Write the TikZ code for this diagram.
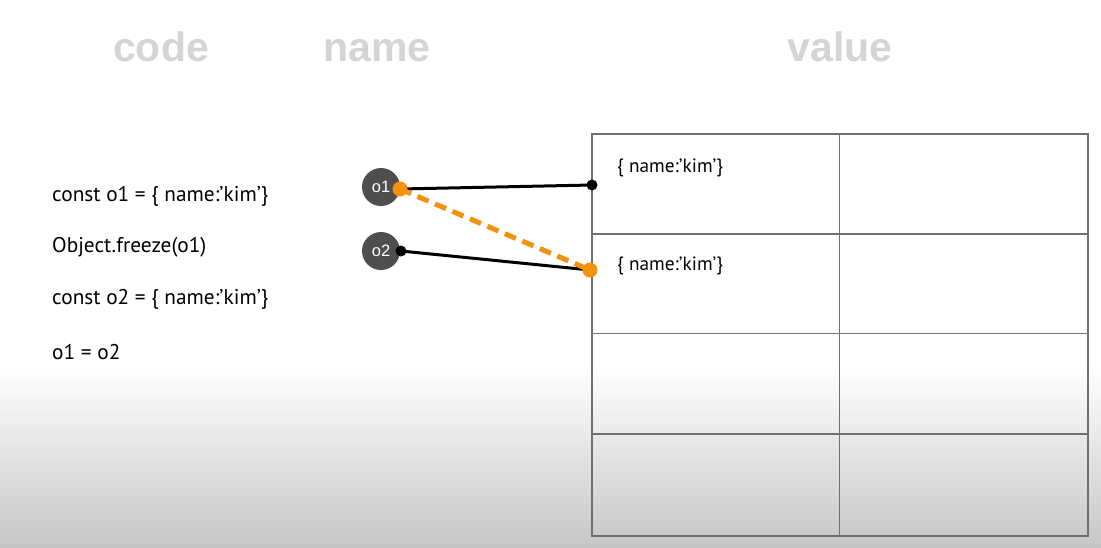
\documentclass[tikz,border=0pt]{standalone}
\usepackage{fontspec}
\setmainfont{PT Sans}
\newfontfamily\headfont{Liberation Sans}
\newfontfamily\circfont{Liberation Sans}
\usetikzlibrary{backgrounds}
\pgfdeclarelayer{bottom}
\pgfsetlayers{bottom,background,main}
\definecolor{headgray}{RGB}{212,212,212}
\definecolor{circgray}{RGB}{78,78,78}
\definecolor{tablegray}{RGB}{112,112,112}
\definecolor{myorange}{RGB}{245,145,10}
\definecolor{bottomgray}{RGB}{198,198,198}
\begin{document}
\begin{tikzpicture}[x=1pt,y=-1pt,
  header/.style={text=headgray,anchor=base,font=\headfont\bfseries\fontsize{41}{41}\selectfont,inner sep=0pt},
  codeline/.style={anchor=west,font=\fontsize{21.3}{21.3}\selectfont,inner sep=0pt},
  valtext/.style={anchor=west,font=\fontsize{19.3}{19.3}\selectfont,inner sep=0pt},
  varcirc/.style={circle,fill=circgray,minimum size=38pt,inner sep=0pt,text=white,font=\circfont\fontsize{16.5}{16.5}\selectfont},
  bdot/.style={circle,fill=black,minimum size=11pt,inner sep=0pt},
  odot/.style={circle,fill=myorange,minimum size=15pt,inner sep=0pt},
  tbl/.style={draw=tablegray,line width=1.1pt},
  refline/.style={line width=3pt,black},
  newref/.style={line width=5pt,myorange,dash pattern=on 12pt off 7pt}
]
\useasboundingbox (0,0) rectangle (1101,547);
\begin{pgfonlayer}{bottom}
\fill[white] (0,0) rectangle (1101,366);
\shade[top color=white,bottom color=bottomgray] (0,365) rectangle (1101,547);
\end{pgfonlayer}

% headers
\node[header] (hcode) at (161,61) {code};
\node[header] (hname) at (377,61) {name};
\node[header] (hvalue) at (840,61) {value};

% code lines
\node[codeline] (c1) at (52,196) {const o1 = \{ name:’kim’\}};
\node[codeline] (c2) at (52,247) {Object.freeze(o1)};
\node[codeline] (c3) at (52,299) {const o2 = \{ name:’kim’\}};
\node[codeline] (c4) at (52,352) {o1 = o2};

% table
\draw[tbl] (592,134) rectangle (1088,536);
\draw[tbl] (839.5,134) -- (839.5,536);
\draw[tbl] (592,234) -- (1088,234);
\draw[tbl] (592,333.5) -- (1088,333.5);
\draw[tbl] (592,434) -- (1088,434);

\node[valtext] (v1) at (617,168) {\{ name:’kim’\}};
\node[valtext] (v2) at (617,266) {\{ name:’kim’\}};

% variables
\node[varcirc] (o1) at (381,187) {o1};
\node[varcirc] (o2) at (381,251) {o2};

\node[odot] (o1dot) at (400,189) {};
\node[bdot] (o2dot) at (401,251) {};
\node[bdot] (v1dot) at (592,185) {};
\node[odot] (v2dot) at (590,270) {};

\begin{pgfonlayer}{background}
\draw[refline] (o1dot.center) -- (v1dot.center);
\draw[refline] (o2dot.center) -- (v2dot.center);
\draw[newref] (o1dot.center) -- (v2dot.center);
\end{pgfonlayer}
\end{tikzpicture}
\end{document}
